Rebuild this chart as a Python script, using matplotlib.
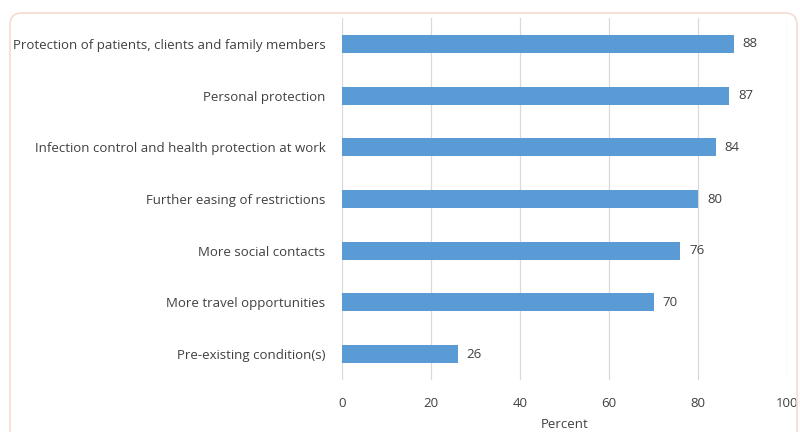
import matplotlib
matplotlib.use("Agg")
import matplotlib.pyplot as plt
from matplotlib.patches import FancyBboxPatch
from matplotlib.transforms import IdentityTransform

categories = [
    "Protection of patients, clients and family members",
    "Personal protection",
    "Infection control and health protection at work",
    "Further easing of restrictions",
    "More social contacts",
    "More travel opportunities",
    "Pre-existing condition(s)",
]
values = [88, 87, 84, 80, 76, 70, 26]
xticks = [0, 20, 40, 60, 80, 100]
xlabel = "Percent"

plt.rcParams['font.family'] = ['Open Sans', 'DejaVu Sans']
txt = '#404040'

fig = plt.figure(figsize=(8, 4.32), dpi=100)
fig.patch.set_facecolor('white')
# rounded frame in pixel coordinates (origin bottom-left)
border = FancyBboxPatch((10, -100), 787, 432 - 13 + 100,
                        boxstyle="round,pad=0,rounding_size=12",
                        transform=IdentityTransform(), fill=False,
                        edgecolor='#f6dccf', linewidth=1.2)
fig.patches.append(border)

ax = fig.add_axes([342/800, 1 - 380/432, (787 - 342)/800, (380 - 18)/432])
y = list(range(len(categories)))
ax.barh(y, values, height=0.35, color='#5b9bd5', zorder=3)
for yi, v in zip(y, values):
    ax.text(v + 2, yi, str(v), va='center', ha='left', fontsize=9.5, color=txt)

ax.set_yticks(y)
ax.set_yticklabels(categories, fontsize=9.5, color=txt)
ax.set_ylim(len(categories) - 0.5, -0.5)
ax.set_xlim(0, 100)
ax.set_xticks(xticks)
ax.set_xticklabels([str(t) for t in xticks], fontsize=9.5, color=txt)
ax.tick_params(length=0, pad=12)
ax.tick_params(axis='y', pad=12)
ax.grid(axis='x', color='#d9d9d9', linewidth=0.9, zorder=0)
for s in ax.spines.values():
    s.set_visible(False)
ax.set_xlabel(xlabel, fontsize=9.5, color=txt, labelpad=6)

fig.savefig("out.png", dpi=100)
